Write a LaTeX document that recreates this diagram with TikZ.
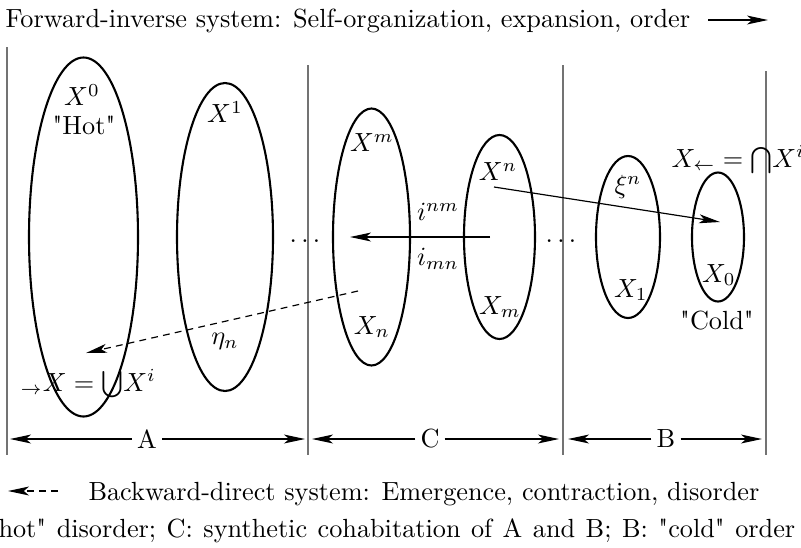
\documentclass[tikz,border=0pt]{standalone}
\usepackage{fontspec}
\setmainfont{Latin Modern Roman}[Ligatures=TeXOff]
\usetikzlibrary{shapes.geometric,arrows.meta}
\newcommand{\pxu}{0.381pt}
\tikzstyle{set} = [draw=black, line width=0.8pt, ellipse, inner sep=0pt]
\tikzstyle{wall} = [draw=black!55, line width=0.5pt]
\tikzstyle{map} = [draw=black, line width=0.45pt, -{Stealth[length=8pt,width=3.4pt,inset=2pt]}]
\tikzstyle{back} = [map, dash pattern=on 2.6pt off 2pt]
\tikzstyle{txt} = [inner sep=0pt, anchor=base west]
\tikzstyle{zone} = [inner sep=1.8pt]
\begin{document}
\begin{tikzpicture}[x=\pxu, y=-\pxu]
    \useasboundingbox (0,0) rectangle (801,547);
    % legend, top
    \node[txt](fwd) at (5,27) {Forward-inverse system: Self-organization, expansion, order};
    \coordinate (fwd0) at (708,20);
    \coordinate (fwd1) at (768,20);
    \draw[map](fwd0)--(fwd1);
    % walls between A, C and B
    \draw[wall] (7,47) -- (7,455);
    \draw[wall] (308,65) -- (308,455);
    \draw[wall] (563,65) -- (563,455);
    \draw[wall] (766,71) -- (766,455);
    % the sets
    \node[set, minimum width=109*\pxu, minimum height=359*\pxu](e0) at (83.5,237) {};
    \node[set, minimum width=96*\pxu, minimum height=308*\pxu](e1) at (225,237) {};
    \node[set, minimum width=77*\pxu, minimum height=257*\pxu](em) at (371.5,237) {};
    \node[set, minimum width=71*\pxu, minimum height=204*\pxu](en) at (499.5,237) {};
    \node[set, minimum width=64*\pxu, minimum height=162*\pxu](f1) at (628,237) {};
    \node[set, minimum width=52*\pxu, minimum height=129*\pxu](f0) at (718,237) {};
    \node(x0) at (82,95) {$X^0$};
    \node(hot) at (84,125) {"Hot"};
    \node(x1) at (225,112) {$X^1$};
    \node(xm) at (372,143) {$X^m$};
    \node(xn) at (498,172) {$X^n$};
    \node(xin) at (628,187) {$\xi^n$};
    \node[txt](cap) at (671,167) {$X_\leftarrow=\bigcap\!X^i$};
    \node[txt](cup) at (20,391) {${}_\rightarrow X=\bigcup\!X^i$};
    \node(inm) at (438,212) {$i^{nm}$};
    \node(imn) at (438,259) {$i_{mn}$};
    \node(etan) at (225,341) {$\eta_n$};
    \node(xsn) at (372,327) {$X_n$};
    \node(xsm) at (500,307) {$X_m$};
    \node(xs1) at (631,290) {$X_1$};
    \node(xs0) at (719,275) {$X_0$};
    \node(cold) at (717,321) {"Cold"};
    \node[anchor=base](dl) at (305,242) {$\ldots$};
    \node[anchor=base](dr) at (561,242) {$\ldots$};
    % the maps
    \coordinate (i0) at (490,237);
    \coordinate (i1) at (350,237);
    \draw[map](i0)--(i1);
    \coordinate (k0) at (494,187);
    \coordinate (k1) at (720,222);
    \draw[map](k0)--(k1);
    \coordinate (h0) at (358,291);
    \coordinate (h1) at (86,353);
    \draw[back](h0)--(h1);
    % the spans A, C, B
    \node[zone](la) at (147,439) {A};
    \coordinate (a0) at (10,439);
    \coordinate (a1) at (305,439);
    \draw[map](la)--(a0);
    \draw[map](la)--(a1);
    \node[zone](lc) at (430,439) {C};
    \coordinate (c0) at (312,439);
    \coordinate (c1) at (559,439);
    \draw[map](lc)--(c0);
    \draw[map](lc)--(c1);
    \node[zone](lb) at (666,439) {B};
    \coordinate (b0) at (568,439);
    \coordinate (b1) at (762,439);
    \draw[map](lb)--(b0);
    \draw[map](lb)--(b1);
    % legend, bottom
    \coordinate (bwd0) at (58,491);
    \coordinate (bwd1) at (8,491);
    \draw[back](bwd0)--(bwd1);
    \node[txt](bwd) at (88,500) {Backward-direct system: Emergence, contraction, disorder};
    \node[txt](note) at (-2,537) {\spaceskip=4pt hot" disorder; C: synthetic cohabitation of A and B; B: "cold" order};
\end{tikzpicture}
\end{document}
